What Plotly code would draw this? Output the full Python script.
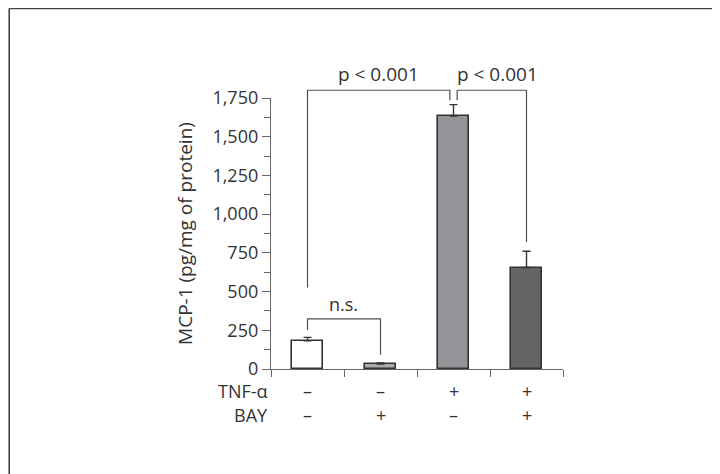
import plotly.graph_objects as go

# ---- data ----
groups = [0, 1, 2, 3]
mcp1_mean = [182, 32, 1634, 655]
mcp1_err = [22, 7, 73, 105]
tnf_signs = ["–", "–", "+", "+"]
bay_signs = ["–", "+", "–", "+"]
y_ticks = [0, 250, 500, 750, 1000, 1250, 1500, 1750]
p_labels = ["n.s.", "p < 0.001", "p < 0.001"]

bar_colors = ["#ffffff", "#a7a9ac", "#939598", "#636466"]

# page has an 8px body margin; figure sized to fit the window
W, H = 712, 466
L, R, T, B = 263, 157, 90, 105
pw, ph = W - L - R, H - T - B
YMAX = 1750

def px_x(px):  # figure pixel -> paper x
    return (px - L) / pw

def px_y(py):  # figure pixel -> paper y
    return (H - B - py) / ph

def val_y(v):  # data value -> paper y (for marks above/below the axis range)
    return v / YMAX

def xd_to_paper(xd):
    return (xd + 0.5) / 4

fig = go.Figure()
fig.add_trace(go.Bar(
    x=groups, y=mcp1_mean, width=0.42,
    marker=dict(color=bar_colors, line=dict(color="#333333", width=1.6)),
    error_y=dict(type="data", array=mcp1_err, arrayminus=[0]*4, symmetric=False,
                 color="#333333", thickness=1.4, width=4),
    showlegend=False, hoverinfo="skip",
))

br_col = "#505050"
br_w = 1.2
def bracket(x0, y0, x1, y1, ytop):
    fig.add_shape(type="path", xref="x", yref="paper",
                  path=f"M {x0},{val_y(y0)} L {x0},{val_y(ytop)} L {x1},{val_y(ytop)} L {x1},{val_y(y1)}",
                  line=dict(color=br_col, width=br_w))

# n.s. bracket
bracket(0, 251, 1, 92, 324)
# p brackets
bracket(0, 526, 1.95, 1735, 1800)
bracket(2.05, 1735, 3, 818, 1800)

font_fam = "Open Sans, Noto Sans, sans-serif"
txt_col = "#333333"
FS = 18

def label(x, y, text, size=FS, xanchor="center", yanchor="middle", yshift=0):
    fig.add_annotation(x=x, y=y, xref="paper", yref="paper", text=text, showarrow=False,
                       xanchor=xanchor, yanchor=yanchor, yshift=yshift,
                       font=dict(size=size, color=txt_col, family=font_fam))

label(xd_to_paper(0.49), val_y(324), p_labels[0], yanchor="bottom", yshift=1)
label(xd_to_paper(0.97), val_y(1800), p_labels[1], size=19, yanchor="bottom", yshift=1)
label(xd_to_paper(2.6), val_y(1800), p_labels[2], size=19, yanchor="bottom", yshift=1)

# condition rows
ty, by = px_y(383), px_y(406.5)
for g, t, b in zip(groups, tnf_signs, bay_signs):
    label(xd_to_paper(g), ty, t)
    label(xd_to_paper(g), by, b)
label(px_x(262), ty, "TNF-α", xanchor="right")
label(px_x(262), by, "BAY", xanchor="right")

# outer frame (top and left edges)
fx = px_x(1.2)
fy = px_y(0.4)
fig.add_shape(type="line", xref="paper", yref="paper", x0=fx, y0=fy, x1=px_x(W), y1=fy,
              line=dict(color="#444444", width=1.6))
fig.add_shape(type="line", xref="paper", yref="paper", x0=fx, y0=fy, x1=fx, y1=px_y(H),
              line=dict(color="#444444", width=1.6))

fig.update_layout(
    width=W, height=H,
    margin=dict(l=L, r=R, t=T, b=B, autoexpand=False),
    paper_bgcolor="white", plot_bgcolor="white",
    font=dict(family=font_fam, size=FS, color=txt_col),
    bargap=0,
    xaxis=dict(range=[-0.5, 3.5], tickvals=[-0.5, 0.5, 1.5, 2.5, 3.5], ticktext=[""]*5,
               ticks="outside", ticklen=7, tickcolor="#666666", tickwidth=1.3,
               showline=True, linecolor="#666666", linewidth=1.3,
               showgrid=False, zeroline=False, fixedrange=True),
    yaxis=dict(range=[0, YMAX], tickvals=y_ticks, tickformat=",",
               ticks="outside", ticklen=8, tickcolor="#666666", tickwidth=1.3,
               minor=dict(tickvals=[125, 375, 625, 875, 1125, 1375, 1625], ticks="outside",
                          ticklen=6, tickcolor="#666666", tickwidth=1.3),
               showline=True, linecolor="#666666", linewidth=1.3,
               showgrid=False, zeroline=False,
               title=dict(text="MCP-1 (pg/mg of protein)", standoff=14,
                          font=dict(size=19, color=txt_col, family=font_fam)),
               tickfont=dict(size=FS, color=txt_col, family=font_fam)),
)

fig.write_html("out.html")
